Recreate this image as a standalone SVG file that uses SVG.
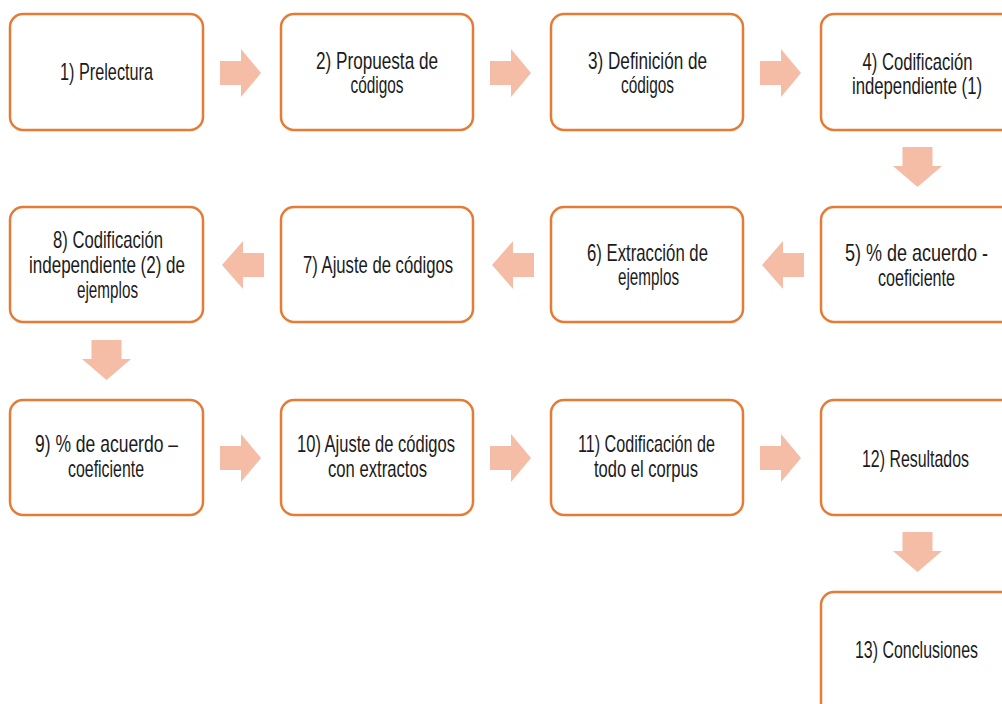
<svg xmlns="http://www.w3.org/2000/svg" width="1002" height="704" viewBox="0 0 1002 704">
<style>
.box{fill:#fff;stroke:#E57B35;stroke-width:2.5}
.arr{fill:#F5BCA6}
text{font-family:"Liberation Sans",Arial,sans-serif;font-size:24px;fill:#1b1b1b;text-anchor:middle}
</style>
<defs>
<path id="ar" class="arr" d="M0,-12 H21 V-24 L41,0 L21,24 V12 H0 Z"/>
<path id="al" class="arr" d="M0,-12 H-21 V-24 L-42,0 L-21,24 V12 H0 Z"/>
<path id="ad" class="arr" d="M-15,0 V19 H-24.5 L0,40 L24.5,19 H15 V0 Z"/>
</defs>
<rect width="1002" height="704" fill="#fff"/>
<g id="connectors">
<use href="#ar" x="220" y="73"/>
<use href="#ar" x="490" y="73"/>
<use href="#ar" x="760" y="73"/>
<use href="#ad" x="917.5" y="147"/>
<use href="#al" x="804" y="265"/>
<use href="#al" x="534" y="265"/>
<use href="#al" x="264" y="265"/>
<use href="#ad" x="106.5" y="340"/>
<use href="#ar" x="220" y="458"/>
<use href="#ar" x="490" y="458"/>
<use href="#ar" x="760" y="458"/>
<use href="#ad" x="917.5" y="532"/>
</g>
<g id="n1"><rect class="box" x="10" y="14" width="193" height="116" rx="13"/>
<text x="106.5" y="80" textLength="93" lengthAdjust="spacingAndGlyphs">1) Prelectura</text></g>
<g id="n2"><rect class="box" x="281" y="14" width="192" height="116" rx="13"/>
<text x="377" y="69" textLength="122" lengthAdjust="spacingAndGlyphs">2) Propuesta de</text>
<text x="377" y="93" textLength="53" lengthAdjust="spacingAndGlyphs">códigos</text></g>
<g id="n3"><rect class="box" x="551" y="14" width="192" height="116" rx="13"/>
<text x="647.5" y="69" textLength="119" lengthAdjust="spacingAndGlyphs">3) Definición de</text>
<text x="647.5" y="93" textLength="53" lengthAdjust="spacingAndGlyphs">códigos</text></g>
<g id="n4"><rect class="box" x="821" y="14" width="193" height="116" rx="13"/>
<text x="917.5" y="70" textLength="110" lengthAdjust="spacingAndGlyphs">4) Codificación</text>
<text x="917" y="94" textLength="130" lengthAdjust="spacingAndGlyphs">independiente (1)</text></g>
<g id="n5"><rect class="box" x="821" y="207" width="193" height="115" rx="13"/>
<text x="916.5" y="261" textLength="143" lengthAdjust="spacingAndGlyphs">5) % de acuerdo -</text>
<text x="916.5" y="286" textLength="77" lengthAdjust="spacingAndGlyphs">coeficiente</text></g>
<g id="n6"><rect class="box" x="551" y="207" width="192" height="115" rx="13"/>
<text x="647.5" y="261" textLength="121" lengthAdjust="spacingAndGlyphs">6) Extracción de</text>
<text x="648.5" y="285" textLength="61" lengthAdjust="spacingAndGlyphs">ejemplos</text></g>
<g id="n7"><rect class="box" x="281" y="207" width="192" height="115" rx="13"/>
<text x="378" y="273" textLength="150" lengthAdjust="spacingAndGlyphs">7) Ajuste de códigos</text></g>
<g id="n8"><rect class="box" x="10" y="207" width="193" height="115" rx="13"/>
<text x="108" y="248" textLength="110" lengthAdjust="spacingAndGlyphs">8) Codificación</text>
<text x="107" y="273" textLength="156" lengthAdjust="spacingAndGlyphs">independiente (2) de</text>
<text x="107.5" y="298" textLength="61" lengthAdjust="spacingAndGlyphs">ejemplos</text></g>
<g id="n9"><rect class="box" x="10" y="400" width="193" height="115" rx="13"/>
<text x="106.5" y="452" textLength="143" lengthAdjust="spacingAndGlyphs">9) % de acuerdo –</text>
<text x="106" y="477" textLength="76" lengthAdjust="spacingAndGlyphs">coeficiente</text></g>
<g id="n10"><rect class="box" x="281" y="400" width="192" height="115" rx="13"/>
<text x="376" y="452" textLength="158" lengthAdjust="spacingAndGlyphs">10) Ajuste de códigos</text>
<text x="377.5" y="477" textLength="99" lengthAdjust="spacingAndGlyphs">con extractos</text></g>
<g id="n11"><rect class="box" x="551" y="400" width="192" height="115" rx="13"/>
<text x="646.5" y="452" textLength="137" lengthAdjust="spacingAndGlyphs">11) Codificación de</text>
<text x="646" y="477" textLength="104" lengthAdjust="spacingAndGlyphs">todo el corpus</text></g>
<g id="n12"><rect class="box" x="821" y="400" width="193" height="115" rx="13"/>
<text x="915.5" y="467" textLength="107" lengthAdjust="spacingAndGlyphs">12) Resultados</text></g>
<g id="n13"><rect class="box" x="821" y="592" width="193" height="130" rx="13"/>
<text x="916.5" y="658" textLength="123" lengthAdjust="spacingAndGlyphs">13) Conclusiones</text></g>
</svg>
